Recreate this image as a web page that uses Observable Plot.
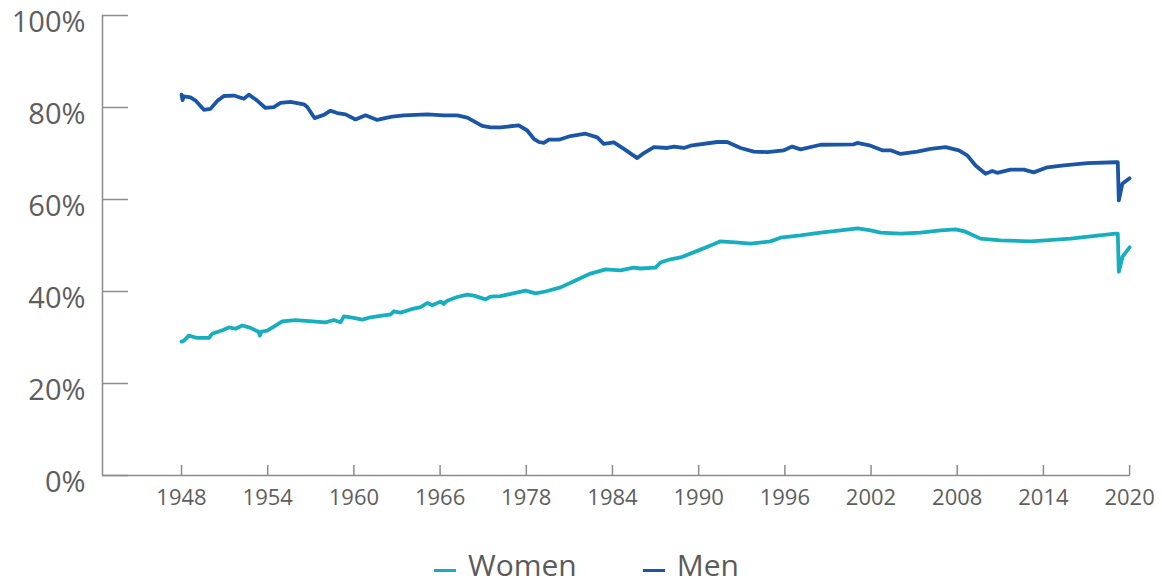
<!DOCTYPE html>
<html><head><meta charset="utf-8">
<script src="https://cdn.jsdelivr.net/npm/d3@7"></script>
<script src="https://cdn.jsdelivr.net/npm/@observablehq/plot@0.6"></script>
<style>
body{margin:0;background:#fff;font-family:"Open Sans",sans-serif;}
#chart{position:relative;width:1162px;height:586px;overflow:hidden}
#legend{display:flex;align-items:flex-start;padding-left:434px;padding-top:25px;font-size:30px;line-height:30px;color:#5b5b5b}
.item{display:flex;align-items:flex-start;margin-right:66px}
.sw{width:22px;height:3px;margin-top:19px;margin-right:12px}
</style></head><body><div id="chart"></div>
<script>
const tickLabels = ["1948","1954","1960","1966","1978","1984","1990","1996","2002","2008","2014","2020"];
const yTickValues = [0,20,40,60,80,100];
const seriesNames = ["Women","Men"];
const seriesColors = ["#17AFBF","#1A56A5"];

const womenYears = [1948.0,1948.18,1948.56,1949.21,1950.10,1950.37,1951.26,1951.65,1952.16,1952.68,1953.32,1953.96,1954.03,1954.17,1954.60,1955.24,1955.76,1956.79,1958.07,1959.10,1959.74,1960.25,1960.51,1961.16,1961.93,1962.57,1963.59,1964.11,1964.36,1964.88,1965.65,1966.42,1966.94,1967.32,1967.96,1968.21,1968.48,1969.25,1970.02,1970.53,1971.43,1971.81,1972.58,1974.51,1975.28,1976.05,1977.21,1978.36,1979.52,1980.68,1981.83,1982.83,1983.37,1984.53,1984.91,1985.68,1986.46,1988.00,1988.77,1989.54,1990.69,1991.85,1993.39,1994.16,1995.70,1997.24,1998.79,2000.10,2001.10,2001.87,2003.41,2004.95,2006.49,2007.65,2008.42,2009.57,2011.12,2013.43,2014.58,2016.51,2018.05,2019.98,2020.15,2020.23,2020.52,2021.06];
const womenValues = [29.1,29.3,30.4,29.9,29.9,30.8,31.7,32.2,31.9,32.6,32.1,31.2,30.4,31.3,31.5,32.6,33.5,33.8,33.5,33.3,33.8,33.3,34.6,34.3,33.9,34.4,34.8,35.0,35.7,35.4,36.1,36.6,37.5,37.0,37.8,37.3,38.0,38.8,39.3,39.1,38.3,38.9,39.0,40.2,39.6,40.0,40.9,42.4,43.9,44.8,44.6,45.2,45.0,45.2,46.3,47.0,47.4,49.1,50.0,50.9,50.7,50.4,50.9,51.7,52.2,52.8,53.3,53.7,53.3,52.8,52.6,52.8,53.3,53.5,53.0,51.5,51.1,50.9,51.1,51.5,52.0,52.6,52.6,44.3,47.6,49.6];

const menYears = [1948.0,1948.08,1948.17,1948.69,1949.08,1949.72,1950.23,1950.75,1951.26,1952.03,1952.80,1953.19,1953.83,1954.47,1955.11,1955.63,1956.40,1957.43,1957.69,1958.25,1958.97,1959.48,1960.00,1960.64,1961.41,1962.18,1963.08,1963.85,1964.24,1965.13,1966.93,1968.21,1969.25,1970.02,1971.17,1971.81,1972.58,1973.99,1974.64,1975.15,1975.54,1975.92,1976.31,1977.08,1977.98,1979.13,1980.04,1980.54,1981.32,1982.09,1983.12,1983.63,1984.40,1985.43,1985.94,1986.71,1987.23,1989.28,1990.05,1991.08,1992.10,1993.14,1994.42,1995.06,1995.71,1997.25,1999.81,2000.07,2001.10,2002.00,2002.64,2003.41,2004.70,2005.72,2006.88,2007.90,2008.55,2009.19,2009.96,2010.48,2010.86,2011.89,2012.91,2013.68,2014.72,2016.00,2017.80,2019.98,2020.15,2020.23,2020.50,2021.06];
const menValues = [82.8,81.6,82.4,82.2,81.5,79.5,79.7,81.4,82.5,82.6,81.9,82.8,81.5,79.9,80.1,81.0,81.2,80.7,80.1,77.7,78.4,79.3,78.8,78.5,77.4,78.3,77.3,77.8,78.0,78.3,78.5,78.3,78.3,77.8,76.0,75.7,75.7,76.1,75.0,73.2,72.5,72.3,73.0,73.0,73.8,74.3,73.5,72.1,72.4,71.0,69.0,70.1,71.4,71.2,71.5,71.2,71.7,72.5,72.5,71.2,70.4,70.3,70.7,71.5,70.9,71.9,72.0,72.3,71.7,70.7,70.7,69.9,70.4,71.0,71.4,70.7,69.6,67.4,65.6,66.2,65.8,66.5,66.5,65.9,67.0,67.4,67.9,68.1,68.1,59.8,63.4,64.6];

const data = [
  ...womenYears.map((t, i) => ({t, v: womenValues[i], s: "Women"})),
  ...menYears.map((t, i) => ({t, v: menValues[i], s: "Men"}))
];

const xStart = 1948, xEnd = 2021.06;
const tickPos = tickLabels.map((_, i) => xStart + i * (xEnd - xStart) / (tickLabels.length - 1));
const xDomain = [1941.91, 2021.13];
const axisColor = "#8c8c8c";
const textColor = "#5e5e5e";

const plot = Plot.plot({
  width: 1162, height: 525,
  marginLeft: 102, marginRight: 32, marginTop: 15, marginBottom: 50,
  style: {fontFamily: '"Open Sans", sans-serif', background: "#fff", overflow: "visible"},
  x: {domain: xDomain, label: null},
  y: {domain: [0, 100], label: null},
  color: {domain: seriesNames, range: seriesColors},
  marks: [
    Plot.axisY(yTickValues, {tickSize: 0, tickPadding: 17, tickFormat: d => d + "%", fontSize: 29, color: textColor, dy: 7}),
    Plot.axisX(tickPos, {tickSize: 0, tickPadding: 14, tickFormat: d => tickLabels[tickPos.indexOf(d)], fontSize: 22, color: textColor}),
    Plot.ruleY(yTickValues, {x1: xDomain[0], x2: xDomain[0] + 2.0, stroke: axisColor, strokeWidth: 1.5}),
    Plot.ruleX(tickPos, {y1: 0, y2: 2.2, stroke: axisColor, strokeWidth: 1.5}),
    Plot.ruleX([xDomain[0]], {y1: 0, y2: 100, stroke: axisColor, strokeWidth: 1.5}),
    Plot.ruleY([0], {x1: xDomain[0], x2: xDomain[1], stroke: axisColor, strokeWidth: 1.5}),
    Plot.line(data, {x: "t", y: "v", z: "s", stroke: "s", strokeWidth: 3.8, strokeLinejoin: "round", strokeLinecap: "round"})
  ]
});
const chart = document.getElementById("chart");
chart.appendChild(plot);
const legend = document.createElement("div");
legend.id = "legend";
seriesNames.forEach((name, i) => {
  const item = document.createElement("div");
  item.className = "item";
  const sw = document.createElement("span");
  sw.className = "sw";
  sw.style.background = seriesColors[i];
  const label = document.createElement("span");
  label.textContent = name;
  item.appendChild(sw); item.appendChild(label);
  legend.appendChild(item);
});
chart.appendChild(legend);
</script>
</body></html>
